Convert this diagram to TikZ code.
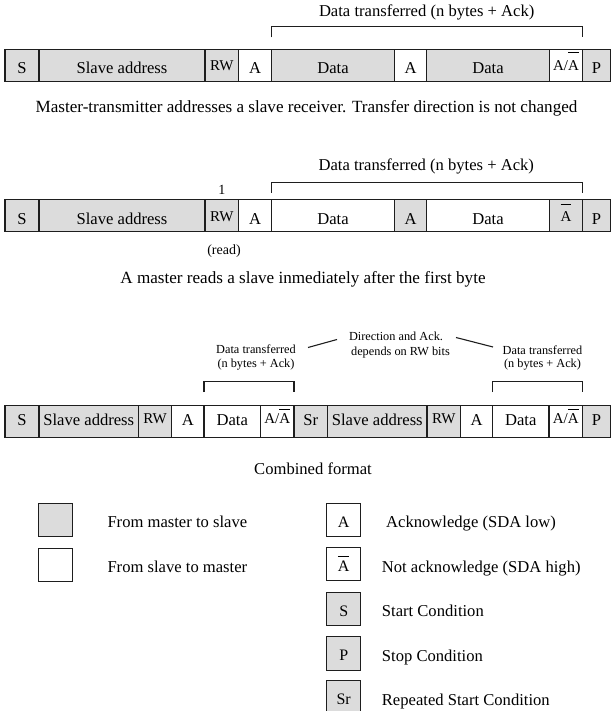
\documentclass[tikz,border=0pt]{standalone}
\usepackage{fontspec}
\setmainfont{Liberation Serif}
\definecolor{boxgray}{RGB}{220,220,220}
\definecolor{inkline}{RGB}{30,30,30}
% A with a bar raised #1 above it (not-acknowledge)
\newcommand\notack[1]{\vbox{\hrule height 0.9pt\kern#1\hbox{A}}}
% one field of a frame: name, left x, right x, style, text
\newcommand\cellat[5]{\node[#4,minimum width={(#3-#2)*1pt}] (#1) at ({(#2+#3)/2},\rowy) {#5};}
\begin{document}
\begin{tikzpicture}[x=1pt,y=-1pt,
  cell/.style={draw=inkline,line width=1.2pt,outer sep=0pt,inner sep=0pt,
    minimum height=32pt,text depth=0pt,text height=\mainh,
    font=\fontsize{16.6}{19}\selectfont},
  gr/.style={fill=boxgray},
  wh/.style={fill=white},
  sm/.style={font=\fontsize{15}{17}\selectfont,text height=\smallh},
  brk/.style={draw=inkline,line width=1.2pt},
  txt/.style={inner sep=0pt,font=\fontsize{16.6}{19}\selectfont},
  caption/.style={inner sep=0pt,font=\fontsize{17.1}{20}\selectfont,anchor=base},
  note/.style={inner sep=0pt,font=\fontsize{12.3}{14}\selectfont,anchor=base},
  bitlabel/.style={inner sep=0pt,font=\fontsize{14}{16}\selectfont,anchor=base},
  legbox/.style={draw=inkline,line width=1.2pt,inner sep=0pt,outer sep=0pt,
    minimum width=34pt,minimum height=33.4pt,text height=14.6pt,text depth=0pt,
    font=\fontsize{16}{18}\selectfont}]
\useasboundingbox (0,0) rectangle (611,711);

% ---- frame 1: master-transmitter to slave-receiver
\def\rowy{65.3}\def\mainh{17.4pt}\def\smallh{11.4pt}
\cellat{r1s}{5}{39}{cell,gr}{S}
\cellat{r1addr}{39}{205}{cell,gr}{Slave address}
\cellat{r1rw}{205}{238.5}{cell,gr,sm}{RW}
\cellat{r1a}{238.5}{271.5}{cell,wh}{A}
\cellat{r1d1}{271.5}{394.5}{cell,gr}{Data}
\cellat{r1a2}{394.5}{426.5}{cell,wh}{A}
\cellat{r1d2}{426.5}{549.5}{cell,gr}{Data}
\cellat{r1an}{549.5}{582.5}{cell,wh,sm}{A/\notack{8.5pt}}
\cellat{r1p}{582.5}{610.4}{cell,gr}{P}
\draw[brk] ([yshift=12pt]r1d1.north west) -- ([yshift=22.6pt]r1d1.north west)
  -- ([yshift=22.6pt]r1an.north east) -- ([yshift=12pt]r1an.north east);
\node[txt,anchor=base] (bl1) at (426.7,17) {Data transferred (n bytes + Ack)};
\node[caption] (cap1) at (306.5,112.5)
  {Master-transmitter addresses a slave receiver. Transfer direction is not changed};

% ---- frame 2: master reads slave
\def\rowy{215.2}\def\mainh{17.6pt}\def\smallh{12pt}
\cellat{r2s}{5}{39}{cell,gr}{S}
\cellat{r2addr}{39}{205}{cell,gr}{Slave address}
\cellat{r2rw}{205}{238.5}{cell,gr,sm}{RW}
\cellat{r2a}{238.5}{271.5}{cell,wh}{A}
\cellat{r2d1}{271.5}{394.5}{cell,wh}{Data}
\cellat{r2a2}{394.5}{426.5}{cell,gr}{A}
\cellat{r2d2}{426.5}{549.5}{cell,wh}{Data}
\cellat{r2an}{549.5}{582.5}{cell,gr,sm}{\notack{6pt}}
\cellat{r2p}{582.5}{610.4}{cell,gr}{P}
\draw[brk] ([yshift=6.5pt]r2d1.north west) -- ([yshift=16.9pt]r2d1.north west)
  -- ([yshift=16.9pt]r2an.north east) -- ([yshift=6.5pt]r2an.north east);
\node[txt,anchor=base] (bl2) at (426.3,170.5) {Data transferred (n bytes + Ack)};
\node[bitlabel] (one) at (221.75,195) {1};
\node[bitlabel] (read) at (224,254) {(read)};
\node[caption] (cap2) at (303,283)
  {A master reads a slave inmediately after the first byte};

% ---- frame 3: combined format
\def\rowy{421.2}\def\mainh{7.6pt}\def\smallh{4pt}
\cellat{r3s}{5}{39}{cell,gr}{S}
\cellat{r3addr1}{39}{138.5}{cell,gr}{Slave address}
\cellat{r3rw1}{138.5}{171.5}{cell,gr,sm}{RW}
\cellat{r3a1}{171.5}{204}{cell,wh}{A}
\cellat{r3d1}{204}{260.5}{cell,wh}{Data}
\cellat{r3an1}{260.5}{294}{cell,wh,sm}{A/\notack{3.5pt}}
\cellat{r3sr}{294}{327.5}{cell,gr}{Sr}
\cellat{r3addr2}{327.5}{427}{cell,gr}{Slave address}
\cellat{r3rw2}{427}{460.5}{cell,gr,sm}{RW}
\cellat{r3a2}{460.5}{492.5}{cell,wh}{A}
\cellat{r3d2}{492.5}{549}{cell,wh}{Data}
\cellat{r3an2}{549}{582.5}{cell,wh,sm}{A/\notack{3.5pt}}
\cellat{r3p}{582.5}{610.4}{cell,gr}{P}
\draw[brk] ([yshift=13.2pt]r3d1.north west) -- ([yshift=23.5pt]r3d1.north west)
  -- ([yshift=23.5pt]r3an1.north east) -- ([yshift=13.2pt]r3an1.north east);
\draw[brk] ([yshift=13.2pt]r3d2.north west) -- ([yshift=23.5pt]r3d2.north west)
  -- ([yshift=23.5pt]r3an2.north east) -- ([yshift=13.2pt]r3an2.north east);
\node[note] (bl3a) at (256,353.5) {Data transferred};
\node[note] (bl3b) at (256,367.2) {(n bytes + Ack)};
\node[note] (bl4a) at (542.5,354) {Data transferred};
\node[note] (bl4b) at (542.5,367.2) {(n bytes + Ack)};
\node[note] (dir1) at (396,340) {Direction and Ack.};
\node[note] (dir2) at (400.5,355) {depends on RW bits};
\coordinate (ll1) at (308,347.5);
\coordinate (ll2) at (337,339.5);
\coordinate (rl1) at (456,337.5);
\coordinate (rl2) at (493,347);
\draw[brk,line width=1.1pt] (ll1) -- (ll2);
\draw[brk,line width=1.1pt] (rl1) -- (rl2);
\node[txt,anchor=base] (cap3) at (313,474) {Combined format};

% ---- legend
\node[legbox,gr] (lm2s) at (55.3,520) {};
\node[legbox,wh] (ls2m) at (55.3,565) {};
\node[txt,anchor=base west] (tm2s) at (107.3,527.3) {From master to slave};
\node[txt,anchor=base west] (ts2m) at (107.3,572.7) {From slave to master};
\node[legbox,wh] (lack) at (343.7,520) {A};
\node[legbox,wh] (lnack) at (343.7,564) {\notack{3.5pt}};
\node[legbox,gr] (lstart) at (343.7,609) {S};
\node[legbox,gr] (lstop) at (343.7,653.5) {P};
\node[legbox,gr] (lrs) at (343.7,697.5) {Sr};
\node[txt,anchor=base west] (tack) at (386,527.3) {Acknowledge (SDA low)};
\node[txt,anchor=base west] (tnack) at (381.7,572.3) {Not acknowledge (SDA high)};
\node[txt,anchor=base west] (tstart) at (381.7,616.7) {Start Condition};
\node[txt,anchor=base west] (tstop) at (381.7,661.7) {Stop Condition};
\node[txt,anchor=base west] (trs) at (381.7,705.7) {Repeated Start Condition};
\end{tikzpicture}
\end{document}
